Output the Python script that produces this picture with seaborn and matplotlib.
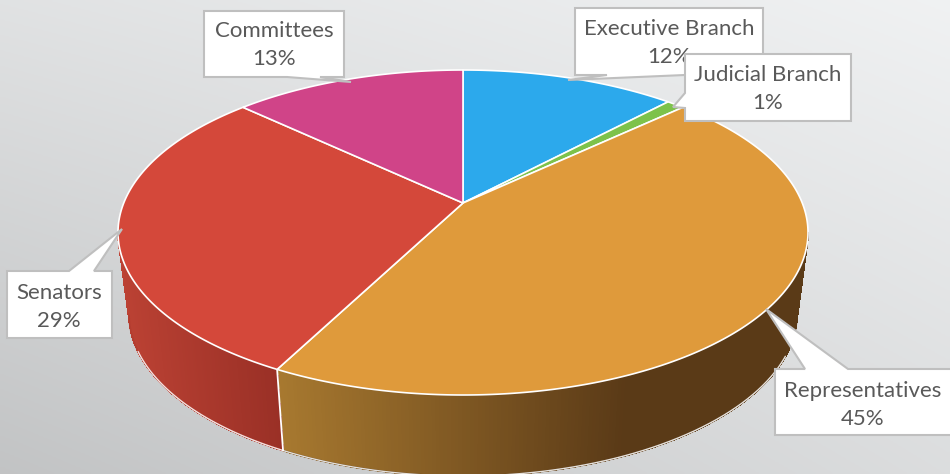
import matplotlib
matplotlib.use('Agg')
import matplotlib.pyplot as plt
import numpy as np
import seaborn as sns
from matplotlib.collections import PolyCollection
from matplotlib.colors import to_rgb
from matplotlib.patches import Polygon

categories = ['Executive Branch', 'Judicial Branch', 'Representatives', 'Senators', 'Committees']
# slice sizes, the labels show them rounded
shares = [12, 1, 44.6, 29.4, 13]
colors = ['#2CA9EC', '#7DC24B', '#DF9A3B', '#D4483A', '#D04488']

sns.set_theme(style='white')
plt.rcParams['font.family'] = ['Lato', 'DejaVu Sans']

palette = sns.color_palette(colors)
W, H = 950, 474

# perspective of the disc: circle -> ellipse, apex sits above the ellipse centre
APEX_X, APEX_Y = 463, 203
K = 59 / 325
A = 345 * np.sqrt(1 - K ** 2)
B = 133 * (1 + K)


def top_rim(theta):
    u, v = np.cos(theta), np.sin(theta)
    d = 1 + K * v
    return APEX_X + A * u / d, APEX_Y - B * v / d


def low_rim(theta):
    u, v = np.cos(theta), np.sin(theta)
    d = 1 + K * v
    return APEX_X + 0.968 * A * u / d, 284.6 - 0.997 * B * v / d


def wall_color(x, c_from, c_to, x0, x1):
    t = np.clip((x - x0) / (x1 - x0), 0, 1)
    return tuple(np.array(to_rgb(c_from)) * (1 - t) + np.array(to_rgb(c_to)) * t)


fig, ax = plt.subplots(figsize=(W / 100, H / 100), dpi=100)
fig.subplots_adjust(0, 0, 1, 1)

wedges, _ = ax.pie(shares, colors=palette, startangle=90, counterclock=False)
spans = [(w.theta1, w.theta2) for w in wedges]
for w in wedges:
    w.set_visible(False)

ax.set_aspect('auto')
ax.set_xlim(0, W)
ax.set_ylim(H, 0)
ax.axis('off')

# background
xx, yy = np.meshgrid(np.linspace(0, 1, 200), np.linspace(0, 1, 200))
corner_tl, corner_tr, corner_bl, corner_br = 0.885, 0.945, 0.765, 0.865
bg = (corner_tl * (1 - xx) * (1 - yy) + corner_tr * xx * (1 - yy)
      + corner_bl * (1 - xx) * yy + corner_br * xx * yy)
bg_rgb = np.dstack([bg - 0.004, bg + 0.002, bg + 0.006]).clip(0, 1)
ax.imshow(bg_rgb, extent=(0, W, H, 0), aspect='auto', zorder=0)

# side wall, only the part that faces the viewer
wall_spans = {2: ('#A97A30', '#5A3A17', 277, 620), 3: ('#BC4234', '#9A3026', 128, 282)}
for i, (c_from, c_to, x0, x1) in wall_spans.items():
    t1, t2 = spans[i]
    th = np.radians(np.linspace(t1, t2, 300))
    th = th[np.sin(th) <= -K]
    xt, yt = top_rim(th)
    xb, yb = low_rim(th)
    quads, fills = [], []
    for j in range(len(th) - 1):
        quads.append([(xt[j], yt[j]), (xt[j + 1], yt[j + 1]), (xb[j + 1], yb[j + 1]), (xb[j], yb[j])])
        fills.append(wall_color(xb[j], c_from, c_to, x0, x1))
    ax.add_collection(PolyCollection(quads, facecolors=fills, edgecolors=fills, linewidths=0.6,
                                     antialiaseds=False, zorder=2))
    # smooth outer edge of the wall, white rim only along the lower curve
    ax.plot(xb, yb, color=fills[len(fills) // 2], lw=1.2, zorder=2.5)
    end = 0 if abs(xt[0] - APEX_X) > abs(xt[-1] - APEX_X) else -1
    ax.plot([xt[end], xb[end]], [yt[end], yb[end]], color=fills[end], lw=1.2, zorder=2.5)
    keep = (xb > 138) & (xb < 786)
    ax.plot(xb[keep], yb[keep], color='white', lw=1.0, alpha=0.85, zorder=3)

# seam between the two walls
seam = np.radians(spans[2][0])
sx0, sy0 = top_rim(seam)
sx1, sy1 = low_rim(seam)
ax.plot([sx0, sx1], [sy0, sy1], color='white', lw=1.3, zorder=3)

# top face
for (t1, t2), c in zip(spans, palette):
    th = np.radians(np.linspace(t1, t2, 300))
    x, y = top_rim(th)
    pts = np.vstack([[APEX_X, APEX_Y], np.column_stack([x, y])])
    ax.add_patch(Polygon(pts, closed=True, facecolor=c, edgecolor='white', lw=1.2, joinstyle='round', zorder=4))

# callouts: box corners, tail tip, tail base on the box side, text centre
callouts = {
    'Committees': dict(box=(204, 11, 344, 77), tip=(351, 82), base=((320, 77), (287, 77)), text=(274, 45)),
    'Executive Branch': dict(box=(575, 8, 763, 75), tip=(568, 80), base=((685, 75), (607, 75)), text=(669, 43)),
    'Judicial Branch': dict(box=(685, 54, 851, 121), tip=(673, 107), base=((685, 93), (685, 108)), text=(768, 89)),
    'Representatives': dict(box=(775, 369, 955, 435), tip=(766, 309), base=((805, 369), (848, 369)), text=(863, 405)),
    'Senators': dict(box=(7, 271, 112, 338), tip=(122, 229), base=((69, 271), (94, 271)), text=(59, 307)),
}

draw_order = ['Committees', 'Senators', 'Representatives', 'Executive Branch', 'Judicial Branch']
for z, name in enumerate(draw_order):
    c = callouts[name]
    x0, y0, x1, y1 = c['box']
    # walk round the box clockwise and slip the tail in on the right side
    (bx0, by0), (bx1, by1) = c['base']
    if by0 == y0:
        pts = [(x0, y0), (bx0, by0), c['tip'], (bx1, by1), (x1, y0), (x1, y1), (x0, y1)]
    elif by0 == y1:
        pts = [(x0, y0), (x1, y0), (x1, y1), (bx0, by0), c['tip'], (bx1, by1), (x0, y1)]
    else:
        pts = [(x0, y0), (x1, y0), (x1, y1), (x0, y1), (bx1, by1), c['tip'], (bx0, by0)]
    ax.add_patch(Polygon(pts, closed=True, facecolor='white', edgecolor='#BFBFBF', lw=1.5,
                         joinstyle='miter', zorder=10 + z))
    share = shares[categories.index(name)]
    ax.text(c['text'][0], c['text'][1], f'{name}\n{round(share)}%', ha='center', va='center', fontsize=16,
            color='#595959', linespacing=1.55, zorder=10 + z)

fig.savefig('out.png', dpi=100)
